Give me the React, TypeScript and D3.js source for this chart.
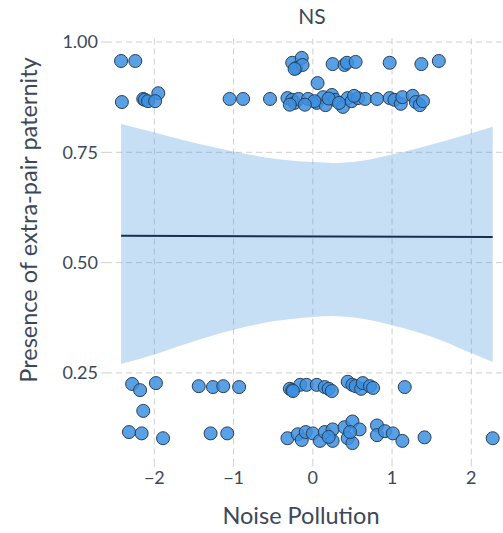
import * as d3 from "d3";
import React from "react";

// jittered observations (noise pollution, presence of EPP)
const noise = [
  -2.42, -2.24, -0.26, -0.21, -0.14, -0.13, -0.23, 0.25, 0.4, 0.43, 0.54, 0.97, 1.37, 1.59,
  0.06, -1.95,
  -2.41, -2.14, -2.12, -2.08, -1.99, -1.05, -0.88, -0.54, -0.32, -0.26, -0.23, -0.18, -0.06, 0.05,
  0.13, 0.16, 0.24, 0.28, 0.38, 0.44, 0.49, 0.57, 0.66, 0.81, 0.97, 1.03, 1.11, 1.13, 1.26, 1.3,
  1.35, 1.39, 0.02, -0.1, 0.2, 0.33, 0.52, -0.29,
  -2.28, -2.18, -1.98, -1.44, -1.26, -1.13, -0.93, -0.29, -0.26, -0.16, -0.08, 0.05, 0.15, 0.2,
  0.24, 0.44, 0.5, 0.54, 0.61, 0.63, 0.72, 0.76, 1.16, -0.25,
  -2.14,
  -2.32, -2.16, -1.89, -1.29, -1.08, -0.32, -0.19, -0.14, -0.09, 0, 0.09, 0.15, 0.25, 0.25, 0.4,
  0.44, 0.5, 0.5, 0.59, 0.81, 0.81, 0.91, 1.01, 1.13, 1.41, 2.27, 0.2, 0.47,
];
const epp = [
  0.957, 0.957, 0.953, 0.941, 0.964, 0.948, 0.939, 0.95, 0.948, 0.953, 0.955, 0.953, 0.95, 0.957,
  0.907, 0.884,
  0.864, 0.871, 0.869, 0.866, 0.866, 0.871, 0.871, 0.871, 0.873, 0.869, 0.862, 0.871, 0.871, 0.862,
  0.875, 0.857, 0.88, 0.869, 0.853, 0.873, 0.866, 0.873, 0.871, 0.871, 0.873, 0.869, 0.86, 0.875,
  0.878, 0.864, 0.857, 0.866, 0.866, 0.858, 0.872, 0.862, 0.878, 0.858,
  0.225, 0.211, 0.227, 0.22, 0.218, 0.22, 0.218, 0.214, 0.211, 0.223, 0.223, 0.223, 0.218, 0.214,
  0.209, 0.23, 0.223, 0.22, 0.214, 0.227, 0.22, 0.216, 0.218, 0.209,
  0.164,
  0.116, 0.113, 0.102, 0.113, 0.113, 0.102, 0.111, 0.098, 0.116, 0.113, 0.096, 0.116, 0.122, 0.096,
  0.127, 0.102, 0.14, 0.091, 0.122, 0.131, 0.109, 0.118, 0.113, 0.096, 0.104, 0.102, 0.105, 0.116,
];

// fitted line and confidence band
const bandX = [-2.42, -2, -1.5, -1, -0.5, 0, 0.25, 0.5, 1, 1.5, 2, 2.27];
const bandHi = [0.814, 0.795, 0.772, 0.752, 0.736, 0.728, 0.726, 0.728, 0.745, 0.768, 0.793, 0.808];
const bandLo = [0.27, 0.292, 0.322, 0.348, 0.367, 0.377, 0.379, 0.376, 0.358, 0.332, 0.295, 0.275];
const fitX = [-2.42, 2.27];
const fitY = [0.561, 0.558];

const xTicks = [-2, -1, 0, 1, 2];
const yTicks = [0.25, 0.5, 0.75, 1.0];

const W = 503;
const H = 533;
const font = "Lato, 'Noto Sans', sans-serif";
const textCol = "#3b4859";

export default function App() {
  const x = d3.scaleLinear().domain([-2.61, 2.4]).range([106, 503]);
  const y = d3.scaleLinear().domain([0.047, 1.008]).range([462.5, 38.5]);

  const band = d3
    .area<number>()
    .x((_, i) => x(bandX[i]))
    .y0((_, i) => y(bandLo[i]))
    .y1((_, i) => y(bandHi[i]))
    .curve(d3.curveMonotoneX);

  const fit = d3
    .line<number>()
    .x((_, i) => x(fitX[i]))
    .y((d) => y(d));

  const [x0, x1] = x.range();
  const [yb, yt] = y.range();

  return (
    <svg width={W} height={H} style={{ position: "absolute", left: 0, top: 0 }}>
      <rect width={W} height={H} fill="#fff" />
      {/* grid */}
      <g stroke="#cfcfcf" strokeWidth={1} strokeDasharray="6,4">
        {xTicks.map((t) => (
          <line key={"gx" + t} x1={x(t)} x2={x(t)} y1={yt} y2={yb} />
        ))}
        {yTicks.map((t) => (
          <line key={"gy" + t} x1={x0} x2={x1} y1={y(t)} y2={y(t)} />
        ))}
      </g>
      <path d={band(bandX) || ""} fill="rgb(65,148,222)" fillOpacity={0.3} />
      <path d={fit(fitY) || ""} fill="none" stroke="#16304f" strokeWidth={2} />
      <g>
        {noise.map((v, i) => (
          <circle
            key={i}
            cx={x(v)}
            cy={y(epp[i])}
            r={6.5}
            fill="#3d8fe0"
            fillOpacity={0.85}
            stroke="#2b3f55"
            strokeWidth={1}
          />
        ))}
      </g>
      {/* axis ticks */}
      <g stroke="#cfcfcf" strokeWidth={1}>
        {yTicks.map((t) => (
          <line key={"ty" + t} x1={x0 - 5} x2={x0} y1={y(t)} y2={y(t)} />
        ))}
        {xTicks.map((t) => (
          <line key={"tx" + t} x1={x(t)} x2={x(t)} y1={yb} y2={yb + 4} />
        ))}
      </g>
      <g fontFamily={font} fontSize={18} fill={textCol}>
        {yTicks.map((t) => (
          <text key={"ly" + t} x={x0 - 8} y={y(t)} dy="0.35em" textAnchor="end">
            {d3.format(".2f")(t)}
          </text>
        ))}
        {xTicks.map((t) => (
          <text key={"lx" + t} x={x(t)} y={yb + 21} textAnchor="middle">
            {t < 0 ? "\u2212" + Math.abs(t) : String(t)}
          </text>
        ))}
      </g>
      <text x={312} y={24} textAnchor="middle" fontFamily={font} fontSize={21} fill={textCol}>
        NS
      </text>
      <text x={301} y={524} textAnchor="middle" fontFamily={font} fontSize={23.5} fill={textCol}>
        Noise Pollution
      </text>
      <text
        transform={`translate(37,220) rotate(-90)`}
        textAnchor="middle"
        fontFamily={font}
        fontSize={23.5}
        fill={textCol}
      >
        Presence of extra-pair paternity
      </text>
    </svg>
  );
}
